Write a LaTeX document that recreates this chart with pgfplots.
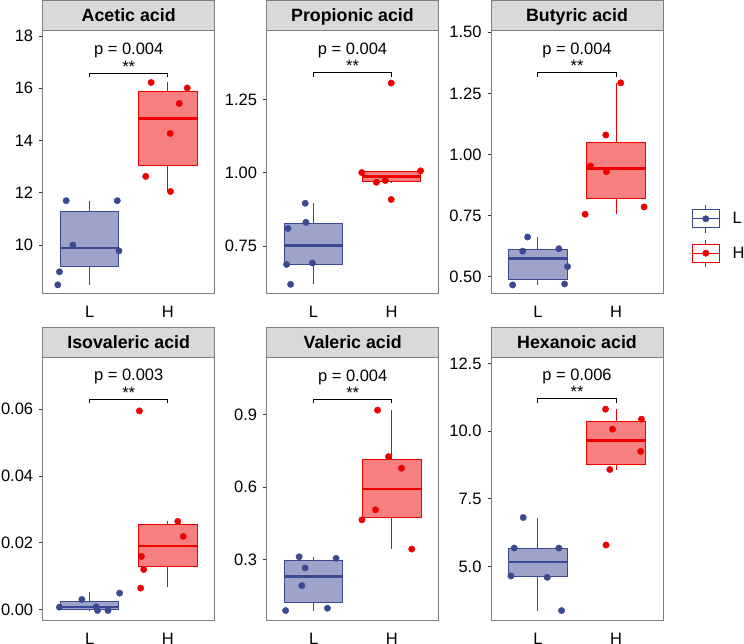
\documentclass[border=0pt]{standalone}
\usepackage{fontspec}
\setmainfont{Liberation Sans}
\usepackage{pgfplots}
\pgfplotsset{compat=1.18}
\usepgfplotslibrary{statistics}
\definecolor{Lc}{HTML}{3B4992}
\definecolor{Hc}{HTML}{EE0000}
\definecolor{Lf}{HTML}{9DA4C8}
\definecolor{Hf}{HTML}{F67F7F}
\definecolor{framec}{HTML}{7F7F7F}
\definecolor{stripc}{HTML}{D9D9D9}
\definecolor{tickc}{HTML}{333333}
\newcommand{\fs}{\fontsize{16.5}{19}\selectfont}
\tikzset{ptext/.style={anchor=base, font=\fs, inner sep=0pt}}
\pgfplotsset{
  boxplot/draw direction=y,
  boxplot/box extend=0.75,
  boxplot/whisker extend=0,
  boxplot/every median/.style={line width=2.8pt},
  panel/.style={
    scale only axis, width=172pt, height=263pt,
    xmin=0.4, xmax=2.6,
    xtick={1,2}, xticklabels={L,H},
    axis line style={draw=framec, line width=1pt},
    tick align=outside, ytick pos=left, xtick pos=bottom,
    major tick length=3.5pt,
    x tick style={draw=none},
    y tick style={draw=tickc, line width=0.8pt},
    tick label style={font=\fs, text=black},
    xticklabel style={text height=11.8pt, text depth=0pt, yshift=-5pt},
    yticklabel style={xshift=-2.5pt},
    every axis title/.style={at={(0.5,1)}, anchor=south, fill=stripc, draw=framec,
      line width=1pt, minimum width=172pt, minimum height=30pt, inner sep=0pt,
      text height=12.7pt, text depth=0pt, font=\bfseries\fontsize{17.8}{20}\selectfont},
    anchor=north west,
  },
  Lbox/.style={draw=Lc, fill=Lf, line width=1pt},
  Hbox/.style={draw=Hc, fill=Hf, line width=1pt},
  Lpts/.style={only marks, mark=*, mark size=3.2pt, color=Lc, mark options={draw=Lc, fill=Lc}},
  Hpts/.style={only marks, mark=*, mark size=3.2pt, color=Hc, mark options={draw=Hc, fill=Hc}},
  brk/.style={black, line width=1pt, no marks},
}
\begin{document}
\begin{tikzpicture}
\useasboundingbox (0pt,0pt) rectangle (744pt,-644pt);

% ---------- Acetic acid
\begin{axis}[panel, at={(42.7pt,-31pt)}, title={Acetic acid},
  ymin=8.13, ymax=18.19, ytick={10,12,14,16,18}, yticklabels={10,12,14,16,18}]
\addplot[Lbox, boxplot prepared={lower whisker=8.48, lower quartile=9.18, median=9.89, upper quartile=11.28, upper whisker=11.70, draw position=1}] coordinates {};
\addplot[Hbox, boxplot prepared={lower whisker=12.05, lower quartile=13.03, median=14.85, upper quartile=15.86, upper whisker=16.22, draw position=2}] coordinates {};
\addplot[Lpts] coordinates {(0.700,11.70) (1.354,11.70) (0.786,10.00) (1.376,9.78) (0.614,8.98) (0.593,8.48)};
\addplot[Hpts] coordinates {(1.787,16.22) (2.249,16.01) (2.146,15.42) (2.031,14.27) (1.718,12.63) (2.035,12.05)};
\addplot[brk] coordinates {(1,16.42) (1,16.58) (2,16.58) (2,16.42)};
\node[ptext, yshift=18.3pt] at (axis cs:1.5,16.58) {p = 0.004};
\node[ptext, yshift=1pt] at (axis cs:1.5,16.58) {**};
\end{axis}

% ---------- Propionic acid
\begin{axis}[panel, at={(266.5pt,-31pt)}, title={Propionic acid},
  ymin=0.586, ymax=1.485, ytick={0.75,1.00,1.25}, yticklabels={0.75,1.00,1.25}]
\addplot[Lbox, boxplot prepared={lower whisker=0.619, lower quartile=0.688, median=0.751, upper quartile=0.826, upper whisker=0.896, draw position=1}] coordinates {};
\addplot[Hbox, boxplot prepared={lower whisker=0.968, lower quartile=0.9695, median=0.9875, upper quartile=1.0055, upper whisker=1.007, draw position=2}] coordinates {};
\addplot[Lpts] coordinates {(0.895,0.896) (0.904,0.831) (0.675,0.810) (0.657,0.687) (0.987,0.692) (0.708,0.619)};
\addplot[Hpts] coordinates {(1.995,1.307) (1.618,1.001) (2.371,1.007) (1.805,0.968) (1.919,0.974) (1.995,0.909)};
\addplot[brk] coordinates {(1,1.328) (1,1.342) (2,1.342) (2,1.328)};
\node[ptext, yshift=18.3pt] at (axis cs:1.5,1.342) {p = 0.004};
\node[ptext, yshift=1pt] at (axis cs:1.5,1.342) {**};
\end{axis}

% ---------- Butyric acid (with legend)
\begin{axis}[panel, at={(491pt,-31pt)}, title={Butyric acid},
  ymin=0.430, ymax=1.505, ytick={0.50,0.75,1.00,1.25,1.50}, yticklabels={0.50,0.75,1.00,1.25,1.50},
  legend style={at={(1.15,0.2205)}, anchor=west, draw=none, fill=none, font=\fs, row sep=6pt,
    nodes={inner sep=2pt}, column sep=11pt},
  legend cell align=left]
\addlegendimage{legend image code/.code={
  \draw[Lc, line width=1pt] (13.3pt,-13.7pt) -- (13.3pt,13.7pt);
  \draw[Lc, line width=1pt, fill=white] (0pt,-9pt) rectangle (26.7pt,9pt);
  \draw[Lc, line width=1pt] (0pt,0pt) -- (26.7pt,0pt);
  \fill[Lc] (13.3pt,0pt) circle (3.2pt);}}
\addlegendentry{L}
\addlegendimage{legend image code/.code={
  \draw[Hc, line width=1pt] (13.3pt,-13.7pt) -- (13.3pt,13.7pt);
  \draw[Hc, line width=1pt, fill=white] (0pt,-9pt) rectangle (26.7pt,9pt);
  \draw[Hc, line width=1pt] (0pt,0pt) -- (26.7pt,0pt);
  \fill[Hc] (13.3pt,0pt) circle (3.2pt);}}
\addlegendentry{H}
\addplot[Lbox, forget plot, boxplot prepared={lower whisker=0.467, lower quartile=0.489, median=0.5735, upper quartile=0.6125, upper whisker=0.663, draw position=1}] coordinates {};
\addplot[Hbox, forget plot, boxplot prepared={lower whisker=0.756, lower quartile=0.822, median=0.9415, upper quartile=1.048, upper whisker=1.293, draw position=2}] coordinates {};
\addplot[Lpts, forget plot] coordinates {(0.868,0.663) (0.805,0.605) (1.268,0.615) (1.379,0.542) (0.677,0.467) (1.341,0.471)};
\addplot[Hpts, forget plot] coordinates {(2.060,1.293) (1.868,1.080) (1.673,0.953) (1.877,0.930) (1.604,0.756) (2.358,0.786)};
\addplot[brk, forget plot] coordinates {(1,1.318) (1,1.334) (2,1.334) (2,1.318)};
\node[ptext, yshift=18.3pt] at (axis cs:1.5,1.334) {p = 0.004};
\node[ptext, yshift=1pt] at (axis cs:1.5,1.334) {**};
\end{axis}

% ---------- Isovaleric acid
\begin{axis}[panel, at={(42.7pt,-357.5pt)}, title={Isovaleric acid},
  ymin=-0.0033, ymax=0.0755, ytick={0,0.02,0.04,0.06}, yticklabels={0.00,0.02,0.04,0.06}]
\addplot[Lbox, boxplot prepared={lower whisker=-0.0003, lower quartile=-0.00005, median=0.00075, upper quartile=0.00245, upper whisker=0.0051, draw position=1}] coordinates {};
\addplot[Hbox, boxplot prepared={lower whisker=0.0066, lower quartile=0.0128, median=0.0190, upper quartile=0.0254, upper whisker=0.0265, draw position=2}] coordinates {};
\addplot[Lpts] coordinates {(0.901,0.0030) (0.614,0.0007) (1.085,0.0008) (1.101,-0.0003) (1.235,-0.0003) (1.384,0.0049)};
\addplot[Hpts] coordinates {(1.637,0.0595) (2.128,0.0264) (2.198,0.0219) (1.662,0.0159) (1.692,0.0120) (1.653,0.0064)};
\addplot[brk] coordinates {(1,0.0618) (1,0.0630) (2,0.0630) (2,0.0618)};
\node[ptext, yshift=18.3pt] at (axis cs:1.5,0.0630) {p = 0.003};
\node[ptext, yshift=1pt] at (axis cs:1.5,0.0630) {**};
\end{axis}

% ---------- Valeric acid
\begin{axis}[panel, at={(266.7pt,-357.5pt)}, title={Valeric acid},
  ymin=0.0482, ymax=1.137, ytick={0.3,0.6,0.9}, yticklabels={0.3,0.6,0.9}]
\addplot[Lbox, boxplot prepared={lower whisker=0.0894, lower quartile=0.1224, median=0.229, upper quartile=0.2956, upper whisker=0.312, draw position=1}] coordinates {};
\addplot[Hbox, boxplot prepared={lower whisker=0.344, lower quartile=0.4754, median=0.5926, upper quartile=0.7146, upper whisker=0.919, draw position=2}] coordinates {};
\addplot[Lpts] coordinates {(0.815,0.312) (1.287,0.3055) (0.892,0.2657) (0.850,0.1926) (0.642,0.0894) (1.177,0.099)};
\addplot[Hpts] coordinates {(1.818,0.919) (1.958,0.7266) (2.124,0.6786) (1.792,0.5065) (1.618,0.465) (2.255,0.344)};
\addplot[brk] coordinates {(1,0.947) (1,0.9636) (2,0.9636) (2,0.947)};
\node[ptext, yshift=18.3pt] at (axis cs:1.5,0.9636) {p = 0.004};
\node[ptext, yshift=1pt] at (axis cs:1.5,0.9636) {**};
\end{axis}

% ---------- Hexanoic acid
\begin{axis}[panel, at={(491pt,-357.5pt)}, title={Hexanoic acid},
  ymin=3.0, ymax=12.72, ytick={5,7.5,10,12.5}, yticklabels={5.0,7.5,10.0,12.5}]
\addplot[Lbox, boxplot prepared={lower whisker=3.367, lower quartile=4.61, median=5.16, upper quartile=5.678, upper whisker=6.806, draw position=1}] coordinates {};
\addplot[Hbox, boxplot prepared={lower whisker=8.58, lower quartile=8.7475, median=9.66, upper quartile=10.35, upper whisker=10.81, draw position=2}] coordinates {};
\addplot[Lpts] coordinates {(0.812,6.806) (0.697,5.678) (1.268,5.678) (0.655,4.645) (1.119,4.595) (1.303,3.367)};
\addplot[Hpts] coordinates {(1.865,10.81) (2.324,10.44) (1.954,10.07) (2.315,9.25) (1.920,8.58) (1.872,5.79)};
\addplot[brk] coordinates {(1,11.05) (1,11.19) (2,11.19) (2,11.05)};
\node[ptext, yshift=18.3pt] at (axis cs:1.5,11.19) {p = 0.006};
\node[ptext, yshift=1pt] at (axis cs:1.5,11.19) {**};
\end{axis}
\end{tikzpicture}
\end{document}
